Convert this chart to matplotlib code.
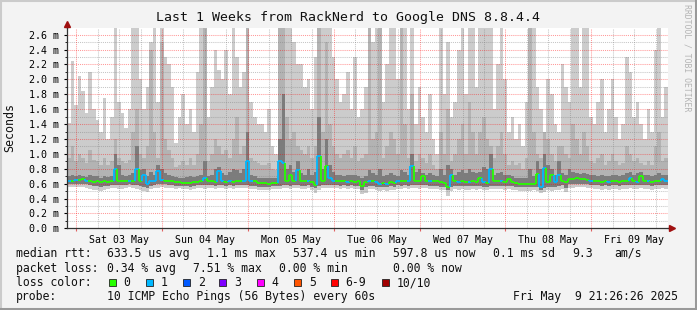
import matplotlib
matplotlib.use("Agg")
import matplotlib.dates as mdates
import matplotlib.pyplot as plt
import numpy as np
import pandas as pd
from matplotlib.collections import LineCollection
from matplotlib.lines import Line2D
from matplotlib.patches import Rectangle
from matplotlib.ticker import FuncFormatter, MultipleLocator

W, H = 697, 310
plt.rcParams["font.family"] = ["DejaVu Sans Mono"]

# --- data (hourly bins, values in ms) ---
end_time = pd.Timestamp("2025-05-09 21:26:26")
start_time = end_time - pd.Timedelta(days=7)

smoke_max = [
    1.42, 2.25, 1.65, 2.05, 1.85, 1.55, 2.10, 1.60, 1.45, 1.30, 1.75, 1.20,
    1.50, 2.70, 1.70, 1.55, 1.35, 1.60, 2.70, 2.70, 2.00, 1.60, 1.90, 2.50,
    2.70, 1.70, 2.70, 2.30, 2.20, 1.90, 1.15, 1.50, 1.80, 1.40, 1.60, 1.30,
    2.10, 2.70, 2.70, 1.50, 1.90, 2.40, 2.13, 2.00, 2.40, 1.80, 2.70, 2.30,
    1.90, 2.10, 2.70, 1.70, 1.50, 1.40, 1.40, 1.30, 1.60, 1.10, 1.00, 2.70,
    2.70, 2.70, 2.70, 2.50, 2.20, 2.20, 1.90, 2.00, 1.60, 2.30, 2.70, 2.70,
    2.70, 2.70, 2.30, 2.00, 1.70, 1.80, 2.10, 1.60, 2.30, 1.50, 1.60, 1.90,
    2.70, 2.50, 2.70, 2.70, 1.70, 2.20, 2.70, 2.70, 2.00, 2.70, 2.70, 1.60,
    2.70, 1.40, 1.90, 1.50, 1.30, 1.80, 1.20, 1.00, 2.70, 1.80, 2.50, 1.50,
    1.70, 2.40, 2.70, 1.80, 2.70, 2.70, 1.90, 2.70, 2.70, 2.70, 2.70, 1.60,
    2.20, 2.70, 2.00, 1.30, 1.50, 1.20, 1.40, 1.10, 1.70, 2.70, 2.70, 1.90,
    1.60, 1.20, 2.00, 1.80, 1.40, 1.30, 2.20, 1.90, 1.70, 2.70, 2.70, 1.90,
    2.70, 2.70, 1.50, 1.40, 1.70, 2.00, 1.30, 1.60, 2.00, 1.50, 1.20, 1.40,
    2.30, 2.10, 1.50, 1.70, 1.40, 1.20, 1.60, 1.30, 2.40, 2.70, 1.50, 1.90,
]
smoke_mid = [
    0.95, 1.10, 0.90, 1.00, 0.95, 0.88, 1.05, 0.92, 0.90, 0.85, 0.95, 0.85,
    0.90, 1.20, 0.95, 0.90, 0.88, 0.92, 1.30, 1.60, 1.00, 0.95, 1.10, 2.40,
    1.30, 0.95, 2.50, 1.20, 1.05, 0.95, 0.82, 0.85, 0.90, 0.85, 0.95, 0.85,
    1.00, 1.40, 2.70, 0.90, 1.00, 1.20, 1.10, 1.00, 1.05, 0.95, 1.20, 1.50,
    1.00, 1.10, 2.70, 0.95, 0.90, 0.88, 0.85, 0.85, 0.88, 0.80, 0.78, 2.70,
    2.70, 1.50, 1.20, 1.30, 1.10, 1.05, 1.00, 1.10, 0.95, 1.10, 2.70, 1.30,
    2.50, 1.40, 1.10, 1.00, 0.95, 1.00, 1.05, 0.95, 1.10, 0.90, 0.95, 1.00,
    2.70, 1.20, 1.30, 2.70, 0.95, 1.10, 1.30, 1.20, 1.00, 2.70, 1.40, 0.95,
    1.80, 0.90, 1.00, 0.95, 0.88, 1.00, 0.85, 0.80, 1.30, 1.00, 1.60, 0.90,
    1.00, 1.20, 1.40, 1.00, 1.70, 1.30, 1.00, 1.30, 1.50, 1.20, 1.10, 0.95,
    1.10, 1.30, 1.00, 0.85, 0.90, 0.85, 0.88, 0.80, 0.95, 2.70, 1.30, 1.00,
    0.95, 1.30, 1.20, 1.00, 0.90, 1.10, 1.10, 1.00, 0.95, 1.40, 1.20, 1.00,
    1.30, 1.10, 0.90, 0.88, 0.95, 1.00, 0.85, 0.90, 1.00, 0.90, 0.85, 0.88,
    1.10, 1.00, 0.90, 0.95, 0.88, 0.85, 0.90, 0.85, 1.10, 1.30, 0.90, 0.95,
]
smoke_dark = [
    0.70, 0.71, 0.70, 0.72, 0.70, 0.69, 0.71, 0.70, 0.70, 0.68, 0.70, 0.69,
    0.70, 1.00, 0.85, 0.72, 0.70, 0.71, 0.74, 1.10, 0.78, 0.80, 0.70, 0.75,
    0.72, 0.85, 0.80, 0.74, 0.72, 0.70, 0.69, 0.68, 0.68, 0.69, 0.70, 0.69,
    0.70, 0.72, 0.90, 0.70, 0.72, 0.80, 0.82, 0.74, 0.72, 0.75, 0.80, 0.78,
    0.74, 0.80, 1.30, 0.72, 0.70, 0.68, 0.68, 0.67, 0.68, 0.67, 0.68, 1.20,
    1.80, 0.80, 0.85, 0.75, 0.90, 0.74, 0.72, 0.80, 0.72, 0.75, 1.50, 0.80,
    1.20, 0.85, 0.76, 0.72, 0.72, 0.70, 0.72, 0.71, 0.72, 0.70, 0.68, 0.70,
    0.78, 0.74, 0.72, 0.80, 0.70, 0.72, 0.74, 0.72, 0.70, 0.78, 0.75, 0.72,
    1.00, 0.75, 0.80, 0.74, 0.72, 0.74, 0.72, 0.70, 0.80, 0.72, 0.85, 0.80,
    0.72, 0.75, 0.78, 0.74, 0.80, 0.76, 0.74, 0.75, 0.82, 0.80, 1.00, 0.72,
    0.74, 0.75, 0.72, 0.72, 0.70, 0.68, 0.67, 0.67, 0.68, 0.80, 0.70, 0.90,
    0.80, 1.00, 0.85, 0.80, 0.72, 0.90, 0.74, 0.72, 0.80, 0.76, 0.74, 0.73,
    0.74, 0.73, 0.72, 0.72, 0.70, 0.72, 0.70, 0.70, 0.72, 0.71, 0.70, 0.72,
    0.74, 0.75, 0.72, 0.74, 0.76, 0.72, 0.72, 0.70, 0.72, 0.74, 0.72, 0.71,
]
smoke_low = [
    0.59, 0.59, 0.60, 0.60, 0.60, 0.59, 0.58, 0.57, 0.57, 0.56, 0.57, 0.57,
    0.58, 0.58, 0.58, 0.58, 0.58, 0.59, 0.58, 0.58, 0.57, 0.56, 0.54, 0.57,
    0.58, 0.59, 0.59, 0.59, 0.58, 0.58, 0.57, 0.57, 0.57, 0.57, 0.56, 0.57,
    0.58, 0.58, 0.58, 0.58, 0.58, 0.57, 0.58, 0.58, 0.57, 0.58, 0.57, 0.58,
    0.58, 0.58, 0.58, 0.57, 0.57, 0.56, 0.56, 0.56, 0.56, 0.57, 0.57, 0.57,
    0.58, 0.58, 0.57, 0.58, 0.58, 0.57, 0.57, 0.58, 0.56, 0.54, 0.57, 0.58,
    0.58, 0.58, 0.58, 0.58, 0.57, 0.58, 0.57, 0.58, 0.57, 0.57, 0.52, 0.55,
    0.57, 0.57, 0.56, 0.55, 0.56, 0.55, 0.57, 0.56, 0.58, 0.57, 0.58, 0.57,
    0.58, 0.58, 0.58, 0.58, 0.58, 0.57, 0.57, 0.57, 0.56, 0.56, 0.51, 0.55,
    0.57, 0.57, 0.57, 0.57, 0.57, 0.57, 0.57, 0.57, 0.56, 0.56, 0.57, 0.57,
    0.57, 0.57, 0.57, 0.57, 0.57, 0.56, 0.55, 0.55, 0.55, 0.55, 0.55, 0.55,
    0.52, 0.54, 0.56, 0.55, 0.56, 0.57, 0.58, 0.54, 0.59, 0.59, 0.59, 0.59,
    0.59, 0.59, 0.58, 0.58, 0.58, 0.57, 0.58, 0.57, 0.58, 0.58, 0.57, 0.58,
    0.58, 0.58, 0.58, 0.58, 0.58, 0.58, 0.58, 0.57, 0.58, 0.58, 0.58, 0.58,
]
smoke_min = [
    0.55, 0.55, 0.56, 0.56, 0.55, 0.54, 0.53, 0.52, 0.51, 0.50, 0.52, 0.53,
    0.54, 0.54, 0.53, 0.53, 0.54, 0.55, 0.54, 0.53, 0.52, 0.50, 0.49, 0.53,
    0.54, 0.54, 0.55, 0.54, 0.54, 0.54, 0.53, 0.54, 0.53, 0.53, 0.52, 0.53,
    0.54, 0.54, 0.53, 0.54, 0.54, 0.53, 0.54, 0.54, 0.53, 0.54, 0.53, 0.54,
    0.54, 0.54, 0.54, 0.53, 0.53, 0.52, 0.52, 0.52, 0.52, 0.53, 0.53, 0.53,
    0.54, 0.54, 0.53, 0.54, 0.54, 0.53, 0.53, 0.54, 0.52, 0.48, 0.52, 0.54,
    0.54, 0.54, 0.54, 0.54, 0.53, 0.54, 0.53, 0.54, 0.53, 0.53, 0.46, 0.48,
    0.53, 0.53, 0.52, 0.50, 0.51, 0.50, 0.52, 0.52, 0.53, 0.53, 0.54, 0.53,
    0.54, 0.54, 0.53, 0.54, 0.54, 0.53, 0.53, 0.53, 0.52, 0.51, 0.44, 0.50,
    0.53, 0.52, 0.53, 0.52, 0.52, 0.53, 0.52, 0.53, 0.52, 0.51, 0.53, 0.53,
    0.53, 0.53, 0.52, 0.53, 0.52, 0.51, 0.50, 0.50, 0.50, 0.50, 0.51, 0.50,
    0.47, 0.49, 0.52, 0.50, 0.51, 0.52, 0.53, 0.49, 0.54, 0.54, 0.55, 0.55,
    0.55, 0.54, 0.54, 0.53, 0.53, 0.52, 0.53, 0.52, 0.53, 0.53, 0.52, 0.53,
    0.53, 0.54, 0.53, 0.53, 0.54, 0.53, 0.53, 0.52, 0.53, 0.53, 0.54, 0.53,
]
median_ms = [
    0.64, 0.64, 0.65, 0.65, 0.66, 0.64, 0.63, 0.62, 0.63, 0.62, 0.63, 0.62,
    0.63, 0.79, 0.64, 0.63, 0.63, 0.64, 0.63, 0.79, 0.63, 0.72, 0.59, 0.63,
    0.64, 0.77, 0.65, 0.64, 0.63, 0.64, 0.62, 0.62, 0.61, 0.61, 0.61, 0.62,
    0.62, 0.63, 0.68, 0.63, 0.63, 0.62, 0.77, 0.63, 0.62, 0.63, 0.62, 0.63,
    0.63, 0.64, 0.90, 0.64, 0.63, 0.61, 0.61, 0.61, 0.60, 0.61, 0.61, 0.90,
    0.88, 0.63, 0.72, 0.63, 0.78, 0.63, 0.63, 0.64, 0.62, 0.58, 0.97, 0.63,
    0.84, 0.67, 0.64, 0.63, 0.63, 0.63, 0.62, 0.63, 0.62, 0.63, 0.57, 0.62,
    0.63, 0.63, 0.62, 0.60, 0.61, 0.60, 0.62, 0.61, 0.63, 0.63, 0.64, 0.63,
    0.84, 0.64, 0.63, 0.70, 0.64, 0.63, 0.63, 0.63, 0.62, 0.61, 0.56, 0.72,
    0.63, 0.62, 0.63, 0.62, 0.62, 0.63, 0.62, 0.68, 0.62, 0.61, 0.79, 0.63,
    0.63, 0.63, 0.62, 0.66, 0.62, 0.61, 0.60, 0.60, 0.59, 0.60, 0.60, 0.73,
    0.55, 0.81, 0.62, 0.72, 0.62, 0.72, 0.63, 0.62, 0.66, 0.66, 0.67, 0.66,
    0.66, 0.65, 0.64, 0.63, 0.63, 0.62, 0.63, 0.62, 0.63, 0.63, 0.62, 0.63,
    0.63, 0.67, 0.63, 0.62, 0.70, 0.63, 0.63, 0.62, 0.63, 0.63, 0.66, 0.64,
]
loss_pings = [
    1, 0, 1, 0, 0, 1, 0, 0, 0, 0, 0, 0,
    0, 1, 0, 0, 0, 1, 0, 1, 0, 1, 1, 1,
    1, 1, 1, 0, 0, 0, 0, 0, 0, 0, 0, 0,
    0, 0, 1, 0, 0, 0, 1, 1, 0, 1, 0, 0,
    0, 1, 1, 1, 0, 0, 0, 0, 0, 0, 0, 1,
    1, 0, 0, 0, 1, 0, 0, 1, 0, 0, 1, 0,
    0, 1, 1, 0, 0, 0, 1, 0, 0, 0, 0, 0,
    1, 0, 1, 1, 0, 1, 0, 0, 1, 0, 0, 1,
    1, 0, 0, 0, 0, 1, 0, 0, 0, 0, 0, 1,
    0, 1, 0, 0, 1, 0, 0, 0, 1, 0, 1, 0,
    0, 1, 0, 0, 0, 0, 0, 0, 0, 0, 0, 0,
    1, 1, 0, 0, 1, 1, 0, 0, 0, 0, 0, 0,
    0, 0, 1, 0, 0, 0, 0, 1, 0, 0, 0, 0,
    0, 1, 0, 1, 0, 0, 1, 0, 0, 0, 1, 1,
]

loss_colors = ["#26ff00", "#00b8ff", "#0059ff", "#7e00ff",
               "#ff00ff", "#ff5500", "#ff0000", "#a10000"]
loss_labels = ["0", "1", "2", "3", "4", "5", "6-9", "10/10"]

stats_rtt = ["633.5 us avg", "1.1 ms max", "537.4 us min",
             "597.8 us now", "0.1 ms sd", "9.3", "am/s"]
stats_loss = ["0.34 % avg", "7.51 % max", "0.00 % min", "0.00 % now"]
probe_text = "10 ICMP Echo Pings (56 Bytes) every 60s"

y_top = 2.69

# --- figure ---
fig = plt.figure(figsize=(W / 100, H / 100), dpi=100, facecolor="#f3f3f3")
ax = fig.add_axes([67 / W, 1 - 228.3 / H, 601 / W, 200.3 / H])
ax.set_facecolor("white")

edges = pd.date_range(start_time, periods=len(median_ms) + 1, freq="h")
x = mdates.date2num(edges.to_pydatetime())


def stepped(v):
    v = np.asarray(v, dtype=float)
    return np.append(v, v[-1])


ax.fill_between(x, stepped(smoke_min), stepped(smoke_max), step="post",
                color="#cccccc", lw=0, zorder=1)
ax.fill_between(x, stepped(smoke_low), stepped(smoke_mid), step="post",
                color="#b3b3b3", lw=0, zorder=1.1)
ax.fill_between(x, stepped(smoke_low), stepped(smoke_dark), step="post",
                color="#7c7c7c", lw=0, zorder=1.2)

# median line coloured by loss
med = np.asarray(median_ms)
segs, cols = [], []
for i in range(len(med)):
    segs.append([(x[i], med[i]), (x[i + 1], med[i])])
    cols.append(loss_colors[loss_pings[i]])
    if i + 1 < len(med):
        segs.append([(x[i + 1], med[i]), (x[i + 1], med[i + 1])])
        cols.append(loss_colors[loss_pings[i + 1]])
ax.add_collection(LineCollection(segs, colors=cols, linewidths=1.3, zorder=4))

ax.set_xlim(x[0], x[-1])
ax.set_ylim(0, y_top)

# grid
red_grid = dict(color=(1, 0, 0, 0.4), lw=0.75, ls=(0, (1, 1)), zorder=3)
gray_grid = dict(color=(0.5, 0.5, 0.5, 0.45), lw=0.75, ls=(0, (1, 1)), zorder=2.9)
ax.yaxis.set_major_locator(MultipleLocator(0.2))
ax.yaxis.set_minor_locator(MultipleLocator(0.1))
for v in np.arange(0.1, y_top, 0.1):
    major = round(v * 10) % 2 == 0
    ax.axhline(v, **(red_grid if major else gray_grid))

midnights = pd.date_range(start_time.ceil("D"), end_time, freq="D")
six_hours = [t for t in pd.date_range(start_time.ceil("6h"), end_time, freq="6h") if t.hour != 0]
for t in six_hours:
    ax.axvline(mdates.date2num(t.to_pydatetime()), **gray_grid)
for t in midnights:
    ax.axvline(mdates.date2num(t.to_pydatetime()), **red_grid)

noons = [t + pd.Timedelta(hours=12) for t in midnights]
ax.set_xticks([mdates.date2num(t.to_pydatetime()) for t in noons])
ax.set_xticklabels([t.strftime("%a %d %b") for t in noons])
ax.set_xticks([mdates.date2num(t.to_pydatetime()) for t in midnights], minor=True)
ax.tick_params(axis="x", which="major", length=0, pad=5, labelsize=7.1)
ax.tick_params(axis="x", which="minor", length=2.5, color="#e06060", width=0.8)

ax.yaxis.set_major_formatter(FuncFormatter(lambda v, p: f"{v:.1f} m"))
ax.tick_params(axis="y", which="major", length=2.5, pad=3, labelsize=7.2, width=0.8)
ax.tick_params(axis="y", which="minor", length=1.5, width=0.6)

for s in ["top", "right"]:
    ax.spines[s].set_visible(False)
for s in ["left", "bottom"]:
    ax.spines[s].set_color("#333333")
    ax.spines[s].set_linewidth(0.9)
    ax.spines[s].set_zorder(5)

# axis arrows
x0, y0 = 67 / W, 1 - 228.3 / H
fig.add_artist(Line2D([x0, x0], [1 - 28 / H, 1 - 24 / H], color="#333333", lw=0.9))
fig.add_artist(Line2D([x0], [1 - 23.5 / H], marker="^", color="#a01010", ms=4.5, lw=0))
fig.add_artist(Line2D([668 / W, 670 / W], [y0, y0], color="#333333", lw=0.9))
fig.add_artist(Line2D([671.5 / W], [y0], marker=">", color="#a01010", ms=4.5, lw=0))

# texts
fig.text(0.5, 1 - 18 / H, "Last 1 Weeks from RackNerd to Google DNS 8.8.4.4",
         ha="center", va="center", fontsize=9.5, color="#111111")
fig.text(10 / W, 1 - 128 / H, "Seconds", rotation=90, ha="center", va="center",
         fontsize=8.4, color="#111111")
fig.text(687 / W, 1 - 4 / H, "RRDTOOL / TOBI OETIKER", rotation=-90, ha="center",
         va="top", fontsize=5.9, color="#b4b4b4")

leg = dict(fontsize=8.3, va="center", ha="left", color="#111111")
row_y = [253.5, 268.5, 282.5, 296.5]
fig.text(16 / W, 1 - row_y[0] / H, "median rtt:", **leg)
for px, s in zip([107.3, 207.3, 293.3, 393.3, 493.3, 572.3, 614], stats_rtt):
    fig.text(px / W, 1 - row_y[0] / H, s, **leg)
fig.text(16 / W, 1 - row_y[1] / H, "packet loss:", **leg)
for px, s in zip([107.3, 193.3, 279.3, 393.3], stats_loss):
    fig.text(px / W, 1 - row_y[1] / H, s, **leg)
fig.text(16 / W, 1 - row_y[2] / H, "loss color:", **leg)
box_x = [108.7, 145.7, 182.7, 219.3, 256.7, 294, 330.7, 381.7]
for bx, c, lab in zip(box_x, loss_colors, loss_labels):
    fig.add_artist(Rectangle((bx / W, 1 - (row_y[2] + 3.5) / H), 7 / W, 7 / H,
                             facecolor=c, edgecolor="#222222", lw=0.6))
    fig.text((bx + 15) / W, 1 - row_y[2] / H, lab, **leg)
fig.text(16 / W, 1 - row_y[3] / H, "probe:", **leg)
fig.text(107.3 / W, 1 - row_y[3] / H, probe_text, **leg)
fig.text(513.3 / W, 1 - row_y[3] / H, end_time.strftime("%a %b ") + f"{end_time.day:2d}"
         + end_time.strftime(" %H:%M:%S %Y"), **leg)

# 3d-ish frame
fig.add_artist(Line2D([0, 1], [1 - 1 / H, 1 - 1 / H], color="#cbcbcb", lw=1.5))
fig.add_artist(Line2D([1 / W, 1 / W], [0, 1], color="#cbcbcb", lw=1.5))
fig.add_artist(Line2D([0, 1], [1.5 / H, 1.5 / H], color="#999999", lw=2.2))
fig.add_artist(Line2D([1 - 1.5 / W, 1 - 1.5 / W], [0, 1], color="#999999", lw=2.2))

fig.savefig("out.png", dpi=100, facecolor=fig.get_facecolor())
